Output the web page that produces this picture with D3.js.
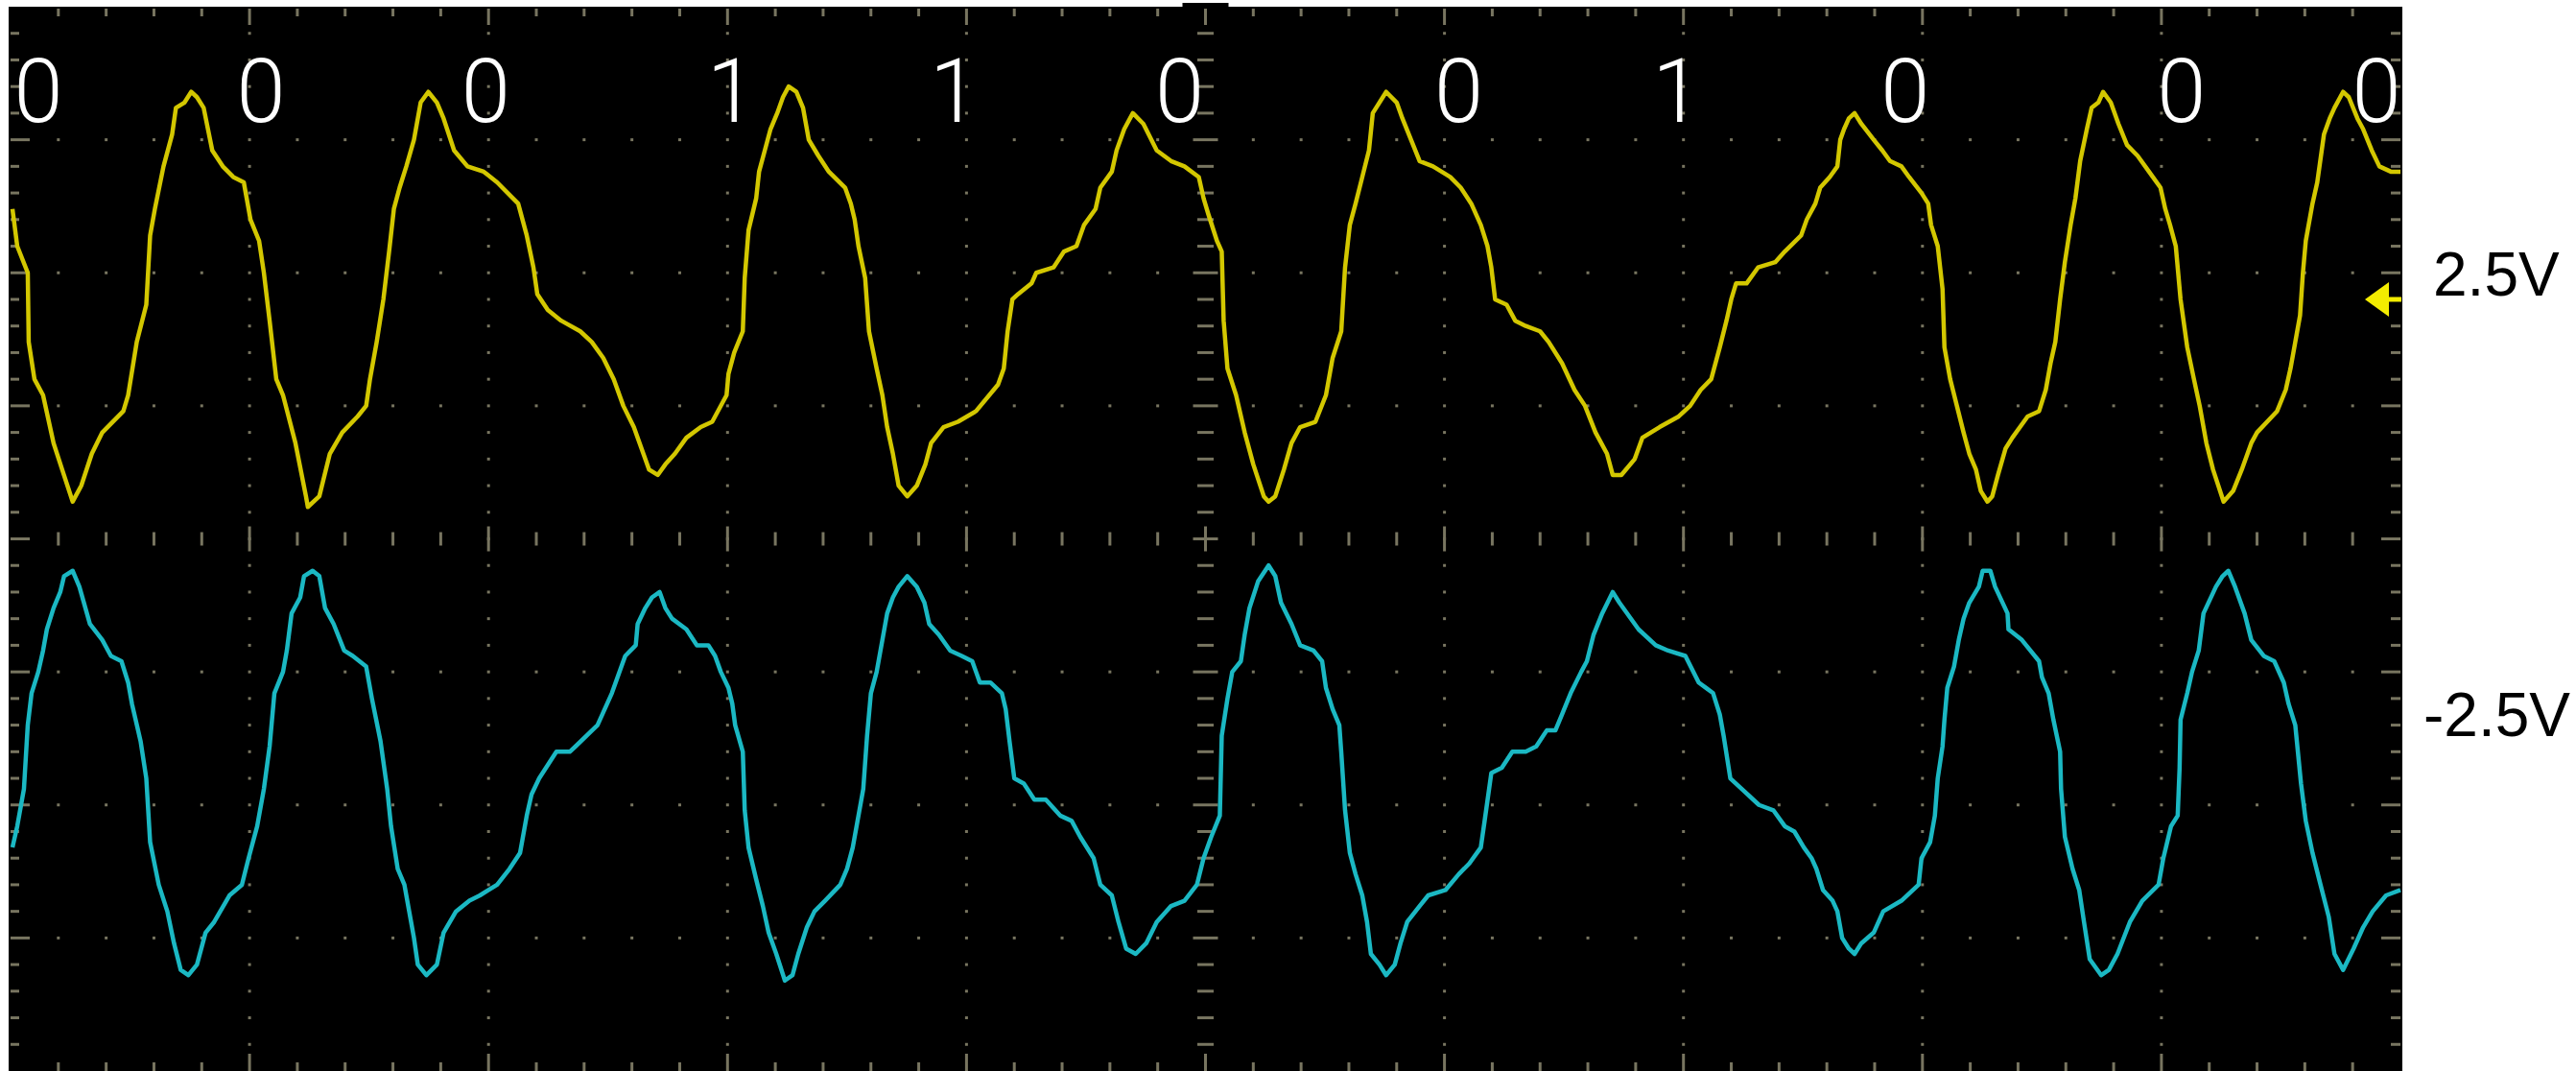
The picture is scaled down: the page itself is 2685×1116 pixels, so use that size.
<!DOCTYPE html>
<html>
<head>
<meta charset="utf-8">
<script src="https://cdn.jsdelivr.net/npm/d3@7"></script>
<style>
  html, body { margin: 0; padding: 0; background: #fff; }
  svg { display: block; }
</style>
</head>
<body>
<svg id="scope" width="2685" height="1116"></svg>
<script>
// Record: 2500 samples across 10 divisions, vertical in ADC levels (25 per division).

// Decoded bit sequence and the sample at which each bit is annotated
const bits = ["0", "0", "0", "1", "1", "0", "0", "1", "0", "0", "0"];
const bitSamples = [29, 262, 497, 754, 987, 1223, 1515, 1743, 1982, 2271, 2475];

// Channel reference levels and their labels
const refLabels = ["2.5V", "-2.5V"];
const ch1Ground = 45;

// Channel 1 (yellow) samples: [sample, level]
const ch1 = [
  [2,62],[7,55],[18,50],[19,37],[25,30],[34,27],[45,18],[54,13],[65,7],[74,10],[85,16],[96,20],
  [118,24],[123,27],[132,37],[142,44],[146,57],[151,62],[160,70],[169,76],[173,81],[182,82],[189,84],
  [195,83],[202,81],[211,73],[222,70],[233,68],[244,67],[251,60],[260,56],[265,50],[271,41],[278,30],
  [285,27],[298,18],[309,8],[311,6],[323,8],[334,16],[347,20],[363,23],[372,25],[376,30],[383,37],
  [390,45],[396,54],[401,62],[407,66],[414,70],[422,75],[429,82],[437,84],[446,82],[453,79],[464,73],
  [478,70],[495,69],[509,67],[531,63],[540,57],[547,51],[551,46],[562,43],[576,41],[596,39],[608,37],
  [620,34],[631,30],[641,25],[652,21],[660,17],[668,13],[677,12],[685,14],[695,16],[707,19],[722,21],
  [734,22],[749,27],[751,31],[757,35],[766,39],[768,49],[772,58],[780,64],[783,69],[789,73],[795,77],
  [802,80],[808,83],[814,85],[822,84],[829,81],[835,75],[845,72],[856,69],[873,66],[879,63],[883,60],
  [887,55],[894,49],[898,39],[906,32],[912,27],[917,21],[923,16],[929,10],[938,8],[948,10],[957,14],
  [963,18],[976,21],[991,22],[1010,24],[1033,29],[1039,32],[1043,39],[1048,45],[1054,46],[1068,48],
  [1073,50],[1091,51],[1102,54],[1115,55],[1123,59],[1135,62],[1140,66],[1152,69],[1157,73],[1165,77],
  [1174,80],[1185,78],[1199,73],[1214,71],[1228,70],[1243,68],[1248,64],[1253,61],[1262,56],[1267,54],
  [1269,41],[1273,32],[1282,27],[1291,20],[1300,14],[1311,8],[1316,7],[1323,8],[1332,13],[1340,18],
  [1349,21],[1365,22],[1376,27],[1383,34],[1392,39],[1396,51],[1401,59],[1407,63],[1414,68],[1421,73],
  [1425,80],[1439,84],[1450,82],[1456,79],[1465,75],[1474,71],[1488,70],[1506,68],[1517,66],[1528,63],
  [1538,59],[1545,55],[1549,51],[1553,45],[1565,44],[1574,41],[1585,40],[1600,39],[1609,37],[1623,33],
  [1636,28],[1647,25],[1658,20],[1670,16],[1676,12],[1685,12],[1699,15],[1707,19],[1725,21],[1745,23],
  [1757,25],[1768,28],[1779,30],[1788,36],[1795,41],[1800,45],[1805,48],[1816,48],[1828,51],[1846,52],
  [1856,54],[1873,57],[1879,60],[1888,63],[1893,66],[1903,68],[1911,70],[1914,75],[1918,77],[1923,79],
  [1929,80],[1936,78],[1949,75],[1958,73],[1966,71],[1978,70],[1986,68],[1999,65],[2006,63],[2009,59],
  [2016,55],[2021,47],[2023,36],[2029,30],[2036,25],[2043,20],[2049,16],[2056,13],[2061,9],[2068,7],
  [2073,8],[2079,12],[2087,17],[2094,19],[2110,23],[2122,24],[2129,28],[2134,33],[2139,37],[2144,45],
  [2149,52],[2155,59],[2160,64],[2165,71],[2172,77],[2177,81],[2184,82],[2189,84],[2197,82],[2205,78],
  [2214,74],[2225,72],[2237,69],[2249,66],[2254,62],[2259,59],[2265,55],[2270,45],[2277,36],[2284,30],
  [2290,25],[2297,18],[2304,13],[2315,7],[2325,9],[2334,13],[2344,18],[2350,20],[2371,24],[2380,28],
  [2385,32],[2390,37],[2395,42],[2398,50],[2401,56],[2408,63],[2413,67],[2420,76],[2426,79],[2431,81],
  [2440,84],[2446,83],[2455,79],[2461,77],[2470,73],[2478,70],[2490,69],[2500,69]
];

// Channel 2 (cyan) samples: [sample, level]
const ch2 = [
  [2,-58],[7,-54],[14,-47],[18,-35],[22,-29],[29,-25],[34,-21],[38,-17],[45,-13],[52,-10],[56,-7],
  [65,-6],[72,-9],[83,-16],[96,-19],[105,-22],[116,-23],[123,-27],[127,-31],[136,-38],[142,-45],
  [146,-57],[155,-65],[164,-70],[171,-76],[178,-81],[186,-82],[195,-80],[204,-74],[213,-72],[229,-67],
  [242,-65],[249,-60],[258,-54],[265,-47],[271,-39],[276,-29],[285,-25],[289,-21],[294,-14],[303,-11],
  [307,-7],[316,-6],[323,-7],[329,-13],[338,-16],[349,-21],[358,-22],[372,-24],[378,-30],[387,-38],
  [394,-47],[398,-54],[405,-62],[412,-65],[417,-70],[422,-75],[426,-80],[435,-82],[446,-80],[453,-74],
  [466,-70],[480,-68],[491,-67],[509,-65],[522,-62],[533,-59],[540,-52],[545,-48],[553,-45],[571,-40],
  [585,-40],[591,-39],[614,-35],[629,-29],[639,-24],[643,-22],[654,-20],[656,-16],[664,-13],[671,-11],
  [679,-10],[685,-13],[692,-15],[707,-17],[718,-20],[730,-20],[737,-22],[743,-25],[751,-28],[755,-31],
  [758,-35],[766,-40],[768,-51],[772,-58],[780,-64],[787,-69],[793,-74],[801,-78],[810,-83],[818,-82],
  [824,-78],[833,-73],[841,-70],[852,-68],[868,-65],[875,-62],[881,-58],[887,-52],[892,-47],[896,-37],
  [900,-29],[906,-25],[912,-19],[917,-14],[923,-11],[929,-9],[938,-7],[948,-9],[956,-12],[961,-16],
  [971,-18],[983,-21],[995,-22],[1006,-23],[1014,-27],[1025,-27],[1037,-29],[1041,-32],[1045,-38],
  [1050,-45],[1060,-46],[1071,-49],[1083,-49],[1098,-52],[1110,-53],[1119,-56],[1133,-60],[1140,-65],
  [1152,-67],[1159,-72],[1167,-77],[1177,-78],[1188,-76],[1199,-72],[1214,-69],[1228,-68],[1241,-65],
  [1248,-60],[1256,-56],[1265,-52],[1267,-37],[1273,-30],[1278,-25],[1287,-23],[1291,-18],[1296,-13],
  [1305,-8],[1316,-5],[1323,-7],[1329,-12],[1340,-16],[1349,-20],[1363,-21],[1372,-23],[1376,-28],
  [1383,-32],[1390,-35],[1392,-40],[1396,-51],[1401,-59],[1407,-63],[1414,-67],[1419,-72],[1423,-78],
  [1432,-80],[1439,-82],[1448,-80],[1454,-76],[1461,-72],[1474,-69],[1483,-67],[1501,-66],[1515,-63],
  [1526,-61],[1538,-58],[1542,-53],[1549,-44],[1560,-43],[1571,-40],[1585,-40],[1596,-39],[1607,-36],
  [1616,-36],[1623,-33],[1632,-29],[1643,-25],[1649,-23],[1656,-18],[1665,-14],[1676,-10],[1683,-12],
  [1703,-17],[1721,-20],[1734,-21],[1752,-22],[1766,-27],[1781,-29],[1788,-33],[1792,-37],[1799,-45],
  [1811,-47],[1829,-50],[1844,-51],[1856,-54],[1866,-55],[1876,-58],[1884,-60],[1889,-62],[1896,-66],
  [1906,-68],[1911,-70],[1916,-75],[1923,-77],[1929,-78],[1936,-76],[1949,-74],[1959,-70],[1978,-68],
  [1996,-65],[1999,-60],[2008,-57],[2013,-52],[2016,-45],[2021,-39],[2023,-34],[2026,-28],[2033,-24],
  [2038,-19],[2043,-15],[2049,-12],[2059,-9],[2063,-6],[2071,-6],[2076,-9],[2089,-14],[2090,-17],
  [2104,-19],[2122,-23],[2125,-26],[2132,-29],[2137,-34],[2144,-40],[2145,-47],[2149,-56],[2157,-62],
  [2164,-66],[2169,-72],[2175,-79],[2187,-82],[2195,-81],[2204,-78],[2217,-72],[2230,-68],[2247,-65],
  [2252,-60],[2260,-54],[2267,-52],[2269,-43],[2270,-34],[2277,-29],[2282,-25],[2289,-21],[2294,-14],
  [2307,-9],[2314,-7],[2320,-6],[2327,-9],[2337,-14],[2344,-19],[2357,-22],[2368,-23],[2378,-27],
  [2383,-31],[2390,-35],[2396,-46],[2401,-53],[2408,-59],[2415,-64],[2425,-71],[2431,-78],[2440,-81],
  [2451,-77],[2461,-73],[2471,-70],[2485,-67],[2500,-66]
];

// ---- layout ----
const svg = d3.select("#scope");
const screen = { left: 11, right: 2502, top: 7, bottom: 1116 };

const x = d3.scaleLinear().domain([0, 2500]).range([screen.left, screen.right]);
const y = d3.scaleLinear().domain([-100, 100]).range([screen.bottom, screen.top]);

const gridColor = "#85826b";
const ch1Color = "#d3c700";
const ch2Color = "#1bb8c3";

// screen background
svg.append("rect")
  .attr("x", screen.left - 2).attr("y", screen.top)
  .attr("width", screen.right - screen.left + 4)
  .attr("height", screen.bottom - screen.top)
  .attr("fill", "#000");

// trigger position marker above the screen
svg.append("rect")
  .attr("x", x(1250) - 24).attr("y", 3)
  .attr("width", 48).attr("height", screen.top - 3)
  .attr("fill", "#000");

svg.append("defs").append("clipPath").attr("id", "screenClip")
  .append("rect")
  .attr("x", screen.left - 2).attr("y", screen.top)
  .attr("width", screen.right - screen.left + 4)
  .attr("height", screen.bottom - screen.top);

// ---- graticule ----
const grid = svg.append("g").attr("fill", gridColor).attr("opacity", 0.9);
const minorX = d3.range(50, 2500, 50);
const minorY = d3.range(-95, 100, 5);
const majorX = d3.range(250, 2500, 250).filter(d => d !== 1250);
const majorY = d3.range(-75, 100, 25).filter(d => d !== 0);
const isMajorX = d => d % 250 === 0;
const isMajorY = d => d % 25 === 0;
const dot = 3;

// dots along the major verticals
majorX.forEach(gx => {
  grid.selectAll(null).data(minorY).join("rect")
    .attr("x", x(gx) - dot / 2).attr("y", d => y(d) - dot / 2)
    .attr("width", dot).attr("height", dot);
});
// dots along the major horizontals
majorY.forEach(gy => {
  grid.selectAll(null).data(minorX.filter(d => d !== 1250 && !isMajorX(d))).join("rect")
    .attr("x", d => x(d) - dot / 2).attr("y", y(gy) - dot / 2)
    .attr("width", dot).attr("height", dot);
});

// ticks on the top and bottom edges and on the centre horizontal
const tw = 3;
grid.selectAll(null).data(minorX).join("rect")
  .attr("x", d => x(d) - tw / 2).attr("y", screen.top + 2)
  .attr("width", tw).attr("height", d => isMajorX(d) ? 17 : 8);
grid.selectAll(null).data(minorX).join("rect")
  .attr("x", d => x(d) - tw / 2).attr("y", d => screen.bottom - (isMajorX(d) ? 18 : 9))
  .attr("width", tw).attr("height", d => isMajorX(d) ? 18 : 9);
grid.selectAll(null).data(minorX).join("rect")
  .attr("x", d => x(d) - tw / 2).attr("y", d => y(0) - (isMajorX(d) ? 13 : 7))
  .attr("width", tw).attr("height", d => isMajorX(d) ? 26 : 14);

// ticks on the left and right edges and on the centre vertical
grid.selectAll(null).data(minorY).join("rect")
  .attr("x", screen.left).attr("y", d => y(d) - tw / 2)
  .attr("width", d => isMajorY(d) ? 20 : 9).attr("height", tw);
grid.selectAll(null).data(minorY).join("rect")
  .attr("x", d => screen.right - (isMajorY(d) ? 20 : 10)).attr("y", d => y(d) - tw / 2)
  .attr("width", d => isMajorY(d) ? 20 : 10).attr("height", tw);
grid.selectAll(null).data(minorY).join("rect")
  .attr("x", d => x(1250) - (isMajorY(d) ? 13 : 8.5)).attr("y", d => y(d) - tw / 2)
  .attr("width", d => isMajorY(d) ? 26 : 17).attr("height", tw);

// ---- traces ----
const line = d3.line().x(d => x(d[0])).y(d => y(d[1]));
const traces = svg.append("g").attr("clip-path", "url(#screenClip)");
traces.append("path").datum(ch1)
  .attr("d", line).attr("fill", "none")
  .attr("stroke", ch1Color).attr("stroke-width", 4.5).attr("stroke-linejoin", "round");
traces.append("path").datum(ch2)
  .attr("d", line).attr("fill", "none")
  .attr("stroke", ch2Color).attr("stroke-width", 4.5).attr("stroke-linejoin", "round");

// ---- bit annotations ----
svg.append("g").attr("clip-path", "url(#screenClip)")
  .selectAll("text").data(bits).join("text")
  .attr("x", (d, i) => x(bitSamples[i]))
  .attr("y", 127)
  .attr("text-anchor", "middle")
  .attr("fill", "#fff")
  .attr("font-family", "'Helvetica Neue', Roboto, Lato, 'Liberation Sans', sans-serif")
  .attr("font-weight", 300)
  .attr("font-size", 92)
  .text(d => d);

// ---- channel 1 ground marker ----
const gy = y(ch1Ground);
svg.append("path")
  .attr("d", `M${screen.right - 37},${gy} L${screen.right - 12},${gy - 18} L${screen.right - 12},${gy + 18} Z`)
  .attr("fill", "#f3ec00");
svg.append("rect")
  .attr("x", screen.right - 13).attr("y", gy - 2.5)
  .attr("width", 14).attr("height", 5)
  .attr("fill", "#f3ec00");

// ---- reference labels ----
svg.append("g").selectAll("text").data(refLabels).join("text")
  .attr("x", (d, i) => i === 0 ? 2536 : 2526)
  .attr("y", (d, i) => i === 0 ? 308 : 767)
  .attr("fill", "#000")
  .attr("font-family", "'Helvetica Neue', 'Liberation Sans', Arial, sans-serif")
  .attr("font-size", 64)
  .text(d => d);
</script>
</body>
</html>
